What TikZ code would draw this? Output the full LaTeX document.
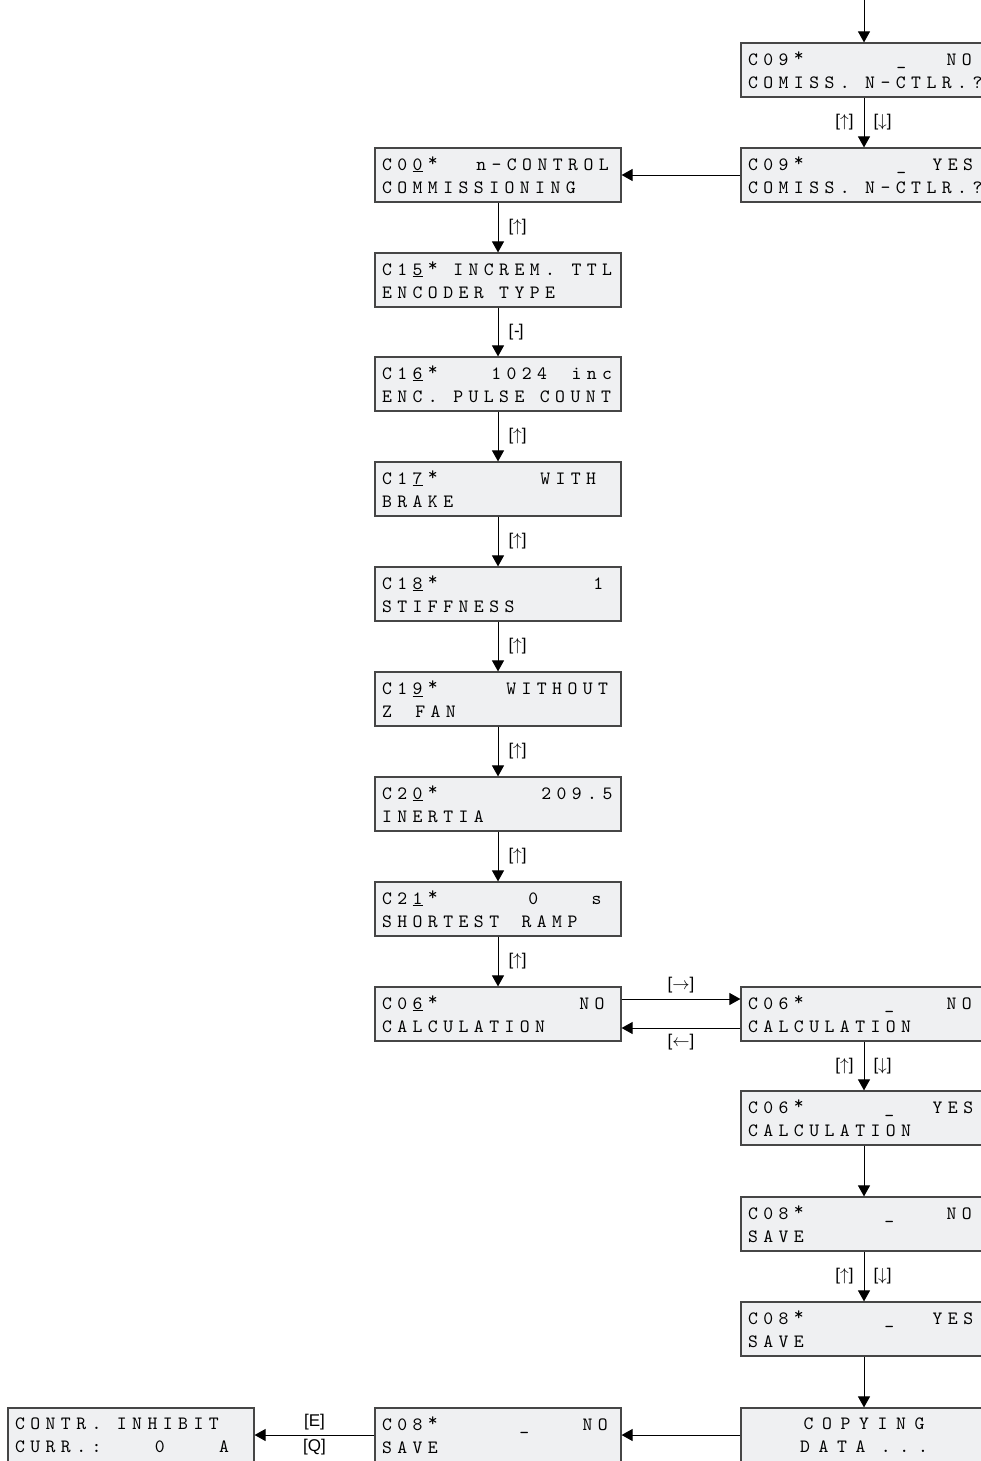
\documentclass[tikz,border=0pt]{standalone}
\usepackage{fontspec}
\usetikzlibrary{arrows.meta}
\newfontfamily\lcdfont{lmmono10-regular.otf}[LetterSpace=29]
\newfontfamily\lcdwide{lmmono10-regular.otf}[LetterSpace=46]
\newfontfamily\keyfont{Liberation Sans}
\definecolor{lcdfill}{RGB}{239,240,242}
\definecolor{lcdline}{RGB}{70,70,70}
\newcommand\gap[1]{\hspace{\dimexpr#1pt+5.45pt\relax}}
\newcommand\blank{\gap{10}}
\newcommand\ul[1]{\hspace{5.45pt}\underline{#1}}
\newcommand\astr{\hspace{5.45pt}\raisebox{3.5pt}{*}}
\newcommand\cur[2]{\gap{#1}\_\gap{#2}}
\tikzset{
  lcd/.style={draw=lcdline,line width=1.2pt,fill=lcdfill,minimum width=246pt,minimum height=54pt,
    text width=232pt,inner xsep=7pt,inner ysep=0pt,align=left,font=\lcdfont\fontsize{18.8}{23}\selectfont},
  go/.style={line width=1pt,-{Triangle[length=11pt,width=12pt]}},
  key/.style={font=\keyfont\fontsize{17}{17}\selectfont,inner sep=1pt}
}
\begin{document}
\begin{tikzpicture}[x=1pt,y=-1pt]
\useasboundingbox(0,0)rectangle(981,1461);
\node[lcd](c09no)at(864,70){C09\astr\cur{87}{35}NO\\COMISS.\blank N-CTLR.?};
\node[lcd](c09yes)at(864,175){C09\astr\cur{87}{21}YES\\COMISS.\blank N-CTLR.?};
\node[lcd](c00)at(498,175){C0\ul{0}\astr\gap{33}n-CONTROL\\COMMISSIONING};
\node[lcd](c15)at(498,280){C1\ul{5}\astr\gap{10}INCREM.\gap{11}TTL\\ENCODER\blank TYPE};
\node[lcd](c16)at(498,384){C1\ul{6}\astr\gap{48}1024\gap{19}inc\\ENC.\blank PULSE\blank COUNT};
\node[lcd](c17)at(498,489){C1\ul{7}\astr\gap{97}WITH\\BRAKE};
\node[lcd](c18)at(498,594){C1\ul{8}\astr\gap{150}1\\STIFFNESS};
\node[lcd](c19)at(498,699){C1\ul{9}\astr\gap{63}WITHOUT\\Z\gap{18}FAN};
\node[lcd](c20)at(498,804){C2\ul{0}\astr\gap{98}209.5\\INERTIA};
\node[lcd](c21)at(498,909){C2\ul{1}\astr\gap{85}0\gap{48}s\\SHORTEST\gap{17}RAMP};
\node[lcd](c06)at(498,1014){C0\ul{6}\astr\gap{136}NO\\CALCULATION};
\node[lcd](c06no)at(864,1014){C06\astr\cur{75}{47}NO\\CALCULATION};
\node[lcd](c06yes)at(864,1118){C06\astr\cur{75}{33}YES\\CALCULATION};
\node[lcd](c08no)at(864,1224){C08\astr\cur{75}{47}NO\\SAVE};
\node[lcd](c08yes)at(864,1329){C08\astr\cur{75}{33}YES\\SAVE};
\node[lcd,align=center,font=\lcdwide\fontsize{18.8}{23}\selectfont](copy)at(864,1435){COPYING\\DATA\blank...};
\node[lcd](c08)at(498,1435){C08\astr\cur{76}{48}NO\\SAVE};
\node[lcd](inhibit)at(131,1435){CONTR.\gap{10}INHIBIT\\CURR.:\gap{48}0\gap{49}A};
\coordinate(entry)at(864,0);
\draw[go](entry)--(c09no);
\draw[go](c09no)--(c09yes)node[key,midway,left=9pt]{[$\uparrow$]}node[key,midway,right=8pt]{[$\downarrow$]};
\draw[go](c09yes)--(c00);
\draw[go](c00)--(c15)node[key,midway,right=9pt]{[$\uparrow$]};
\draw[go](c15)--(c16)node[key,midway,right=9pt]{[\kern1pt-\kern-1pt]};
\draw[go](c16)--(c17)node[key,midway,right=9pt]{[$\uparrow$]};
\draw[go](c17)--(c18)node[key,midway,right=9pt]{[$\uparrow$]};
\draw[go](c18)--(c19)node[key,midway,right=9pt]{[$\uparrow$]};
\draw[go](c19)--(c20)node[key,midway,right=9pt]{[$\uparrow$]};
\draw[go](c20)--(c21)node[key,midway,right=9pt]{[$\uparrow$]};
\draw[go](c21)--(c06)node[key,midway,right=9pt]{[$\uparrow$]};
\draw[go]([yshift=15pt]c06.east)--([yshift=15pt]c06no.west)node[key,midway,above=4pt]{[$\rightarrow$]};
\draw[go]([yshift=-14pt]c06no.west)--([yshift=-14pt]c06.east)node[key,midway,below=5pt]{[$\leftarrow$]};
\draw[go](c06no)--(c06yes)node[key,midway,left=9pt]{[$\uparrow$]}node[key,midway,right=8pt]{[$\downarrow$]};
\draw[go](c06yes)--(c08no);
\draw[go](c08no)--(c08yes)node[key,midway,left=9pt]{[$\uparrow$]}node[key,midway,right=8pt]{[$\downarrow$]};
\draw[go](c08yes)--(copy);
\draw[go](copy)--(c08);
\draw[go](c08)--(inhibit)node[key,midway,above=3pt]{[E]}node[key,midway,below=3pt]{[Q]};
\end{tikzpicture}
\end{document}
